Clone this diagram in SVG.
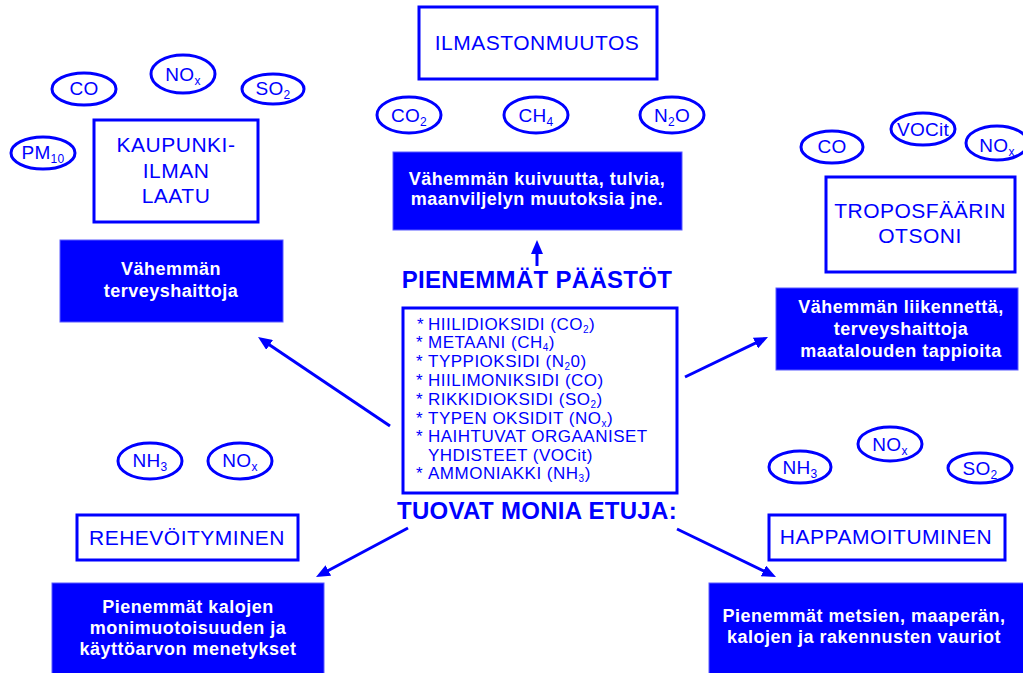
<svg xmlns="http://www.w3.org/2000/svg" width="1023" height="673" viewBox="0 0 1023 673">
<style>
.wb{fill:#fff;stroke:#00f;stroke-width:3}
.bb{fill:#00f;stroke:#5a5aff;stroke-width:1}
.el{fill:#fff;stroke:#00f;stroke-width:3}
text{font-family:"Liberation Sans",Arial,sans-serif;fill:#00f}
.tt{font-size:21px;letter-spacing:0.5px;text-anchor:middle}
.et{font-size:19px;letter-spacing:0.3px;text-anchor:middle}
.es{font-size:12px}
.bt{font-weight:bold;fill:#fff;font-size:18px;letter-spacing:0.5px;text-anchor:middle}
.hd{font-weight:bold;font-size:24px;letter-spacing:0.3px;text-anchor:middle}
.lt{font-size:17px;letter-spacing:0.5px}
.ls{font-size:10px}
.con{stroke:#00f;stroke-width:3;fill:none;marker-end:url(#ah)}
</style>
<defs>
<marker id="ah" markerUnits="userSpaceOnUse" markerWidth="14" markerHeight="12" viewBox="0 0 14 12" refX="8" refY="6" orient="auto">
<path d="M0,0 L14,6 L0,12 z" fill="#00f"/>
</marker>
</defs>
<rect width="1023" height="673" fill="#fff"/>

<g id="ilmastonmuutos">
<rect class="wb" x="419" y="7" width="238" height="72"/>
<text class="tt" x="537" y="50">ILMASTONMUUTOS</text>
</g>
<g id="co2-top"><ellipse class="el" cx="409" cy="115" rx="32" ry="18"/><text class="et" x="409" y="122">CO<tspan class="es" dy="4">2</tspan></text></g>
<g id="ch4-top"><ellipse class="el" cx="536" cy="115" rx="32" ry="18"/><text class="et" x="536" y="122">CH<tspan class="es" dy="4">4</tspan></text></g>
<g id="n2o-top"><ellipse class="el" cx="672" cy="115" rx="32" ry="18"/><text class="et" x="672" y="122">N<tspan class="es" dy="4">2</tspan><tspan dy="-4">O</tspan></text></g>
<g id="box-ilmasto">
<rect class="bb" x="393" y="152" width="289" height="78"/>
<text class="bt" x="537" y="185">Vähemmän kuivuutta, tulvia,</text>
<text class="bt" x="537" y="205">maanviljelyn muutoksia jne.</text>
</g>

<g id="co-tl"><ellipse class="el" cx="84" cy="89" rx="32" ry="16"/><text class="et" x="84" y="95">CO</text></g>
<g id="nox-tl"><ellipse class="el" cx="183" cy="74" rx="32" ry="19"/><text class="et" x="183" y="81">NO<tspan class="es" dy="4">x</tspan></text></g>
<g id="so2-tl"><ellipse class="el" cx="273" cy="89" rx="31" ry="15"/><text class="et" x="273" y="95">SO<tspan class="es" dy="4">2</tspan></text></g>
<g id="pm10"><ellipse class="el" cx="43" cy="153" rx="32" ry="16"/><text class="et" x="43" y="159">PM<tspan class="es" dy="4">10</tspan></text></g>
<g id="kaupunki">
<rect class="wb" x="94" y="120" width="164" height="102"/>
<text class="tt" x="176" y="152">KAUPUNKI-</text>
<text class="tt" x="176" y="178">ILMAN</text>
<text class="tt" x="176" y="203">LAATU</text>
</g>
<g id="box-terveys">
<rect class="bb" x="60" y="240" width="223" height="82"/>
<text class="bt" x="171" y="275">Vähemmän</text>
<text class="bt" x="171" y="297">terveyshaittoja</text>
</g>

<g id="co-tr"><ellipse class="el" cx="832" cy="147" rx="31" ry="16"/><text class="et" x="832" y="153">CO</text></g>
<g id="vocit"><ellipse class="el" cx="923" cy="129" rx="32" ry="16"/><text class="et" x="923" y="136">VOCit</text></g>
<g id="nox-tr"><ellipse class="el" cx="997" cy="143" rx="31" ry="17"/><text class="et" x="997" y="152">NO<tspan class="es" dy="4">x</tspan></text></g>
<g id="troposfaarin">
<rect class="wb" x="826" y="177" width="189" height="95"/>
<text class="tt" x="920" y="218">TROPOSFÄÄRIN</text>
<text class="tt" x="920" y="243">OTSONI</text>
</g>
<g id="box-liikenne">
<rect class="bb" x="776" y="288" width="242" height="82"/>
<text class="bt" x="901" y="313">Vähemmän liikennettä,</text>
<text class="bt" x="901" y="335">terveyshaittoja</text>
<text class="bt" x="901" y="357">maatalouden tappioita</text>
</g>

<g id="center">
<text class="hd" x="537" y="288">PIENEMMÄT PÄÄSTÖT</text>
<rect class="wb" x="403" y="308" width="274" height="185"/>
<text class="lt" x="417" y="330">*</text><text class="lt" x="428" y="330">HIILIDIOKSIDI (CO<tspan class="ls" dy="3">2</tspan><tspan dy="-3">)</tspan></text>
<text class="lt" x="416" y="348">*</text><text class="lt" x="428" y="348">METAANI (CH<tspan class="ls" dy="3">4</tspan><tspan dy="-3">)</tspan></text>
<text class="lt" x="416" y="367">*</text><text class="lt" x="428" y="367">TYPPIOKSIDI (N<tspan class="ls" dy="3">2</tspan><tspan dy="-3">0)</tspan></text>
<text class="lt" x="416" y="386">*</text><text class="lt" x="428" y="386">HIILIMONIKSIDI (CO)</text>
<text class="lt" x="416" y="405">*</text><text class="lt" x="428" y="405">RIKKIDIOKSIDI (SO<tspan class="ls" dy="3">2</tspan><tspan dy="-3">)</tspan></text>
<text class="lt" x="416" y="424">*</text><text class="lt" x="428" y="424">TYPEN OKSIDIT (NO<tspan class="ls" dy="3">x</tspan><tspan dy="-3">)</tspan></text>
<text class="lt" x="416" y="442">*</text><text class="lt" x="428" y="442">HAIHTUVAT ORGAANISET</text>
<text class="lt" x="428" y="461">YHDISTEET (VOCit)</text>
<text class="lt" x="416" y="479">*</text><text class="lt" x="428" y="479">AMMONIAKKI (NH<tspan class="ls" dy="3">3</tspan><tspan dy="-3">)</tspan></text>
<text class="hd" x="537" y="519">TUOVAT MONIA ETUJA:</text>
</g>

<g id="nh3-bl"><ellipse class="el" cx="150" cy="461" rx="32" ry="18"/><text class="et" x="150" y="467">NH<tspan class="es" dy="4">3</tspan></text></g>
<g id="nox-bl"><ellipse class="el" cx="240" cy="461" rx="32" ry="18"/><text class="et" x="240" y="467">NO<tspan class="es" dy="4">x</tspan></text></g>
<g id="rehevoityminen">
<rect class="wb" x="77" y="515" width="221" height="45"/>
<text class="tt" x="187" y="545">REHEVÖITYMINEN</text>
</g>
<g id="box-kalat">
<rect class="bb" x="52" y="583" width="272" height="95"/>
<text class="bt" x="188" y="613">Pienemmät kalojen</text>
<text class="bt" x="188" y="634">monimuotoisuuden ja</text>
<text class="bt" x="188" y="655">käyttöarvon menetykset</text>
</g>

<g id="nh3-br"><ellipse class="el" cx="800" cy="467" rx="31" ry="16"/><text class="et" x="800" y="474">NH<tspan class="es" dy="4">3</tspan></text></g>
<g id="nox-br"><ellipse class="el" cx="890" cy="444" rx="32" ry="17"/><text class="et" x="890" y="451">NO<tspan class="es" dy="4">x</tspan></text></g>
<g id="so2-br"><ellipse class="el" cx="980" cy="468" rx="32" ry="15"/><text class="et" x="980" y="475">SO<tspan class="es" dy="4">2</tspan></text></g>
<g id="happamoituminen">
<rect class="wb" x="769" y="515" width="236" height="45"/>
<text class="tt" x="886" y="544">HAPPAMOITUMINEN</text>
</g>
<g id="box-metsat">
<rect class="bb" x="709" y="583" width="320" height="95"/>
<text class="bt" x="864" y="622">Pienemmät metsien, maaperän,</text>
<text class="bt" x="864" y="643">kalojen ja rakennusten vauriot</text>
</g>

<g id="connectors">
<line class="con" x1="537" y1="266" x2="537" y2="246"/>
<line class="con" x1="390" y1="426" x2="263" y2="340.4"/>
<line class="con" x1="685" y1="377" x2="762.6" y2="339.6"/>
<line class="con" x1="408" y1="528" x2="321.3" y2="574.2"/>
<line class="con" x1="677" y1="529" x2="770.6" y2="574.4"/>
</g>
</svg>
